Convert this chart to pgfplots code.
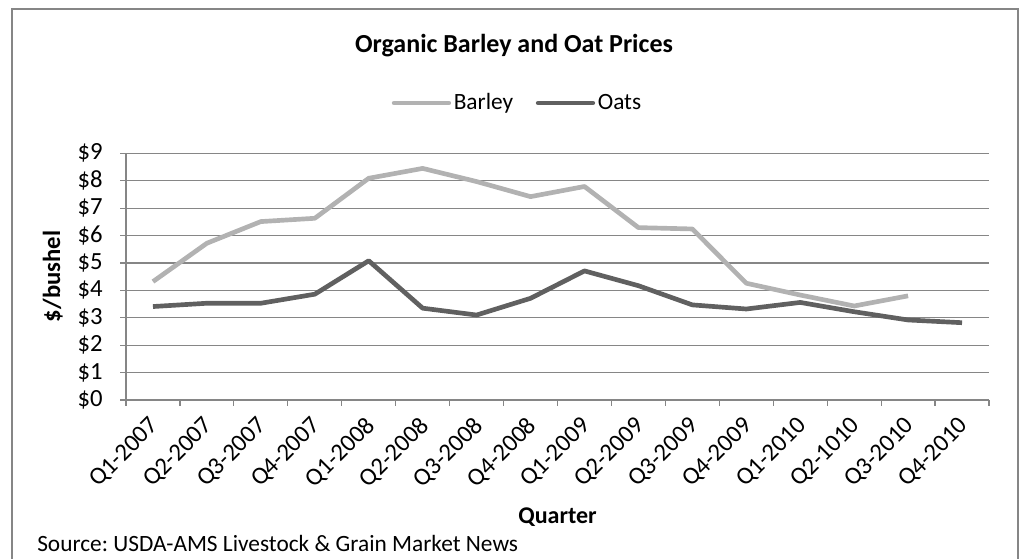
\documentclass[border=0pt]{standalone}
\usepackage{fontspec}
\setmainfont{Carlito}
\usepackage{pgfplots}
\pgfplotsset{compat=1.18}
\definecolor{barley}{RGB}{178,178,178}
\definecolor{oats}{RGB}{96,96,96}
\definecolor{axgray}{RGB}{134,134,134}
\frenchspacing
\begin{document}
\begin{tikzpicture}
\useasboundingbox (0,0) rectangle (767.25pt,419.25pt);
\draw[axgray, line width=1.2pt] (9pt,-5pt) -- (9pt,412.3pt) -- (763.5pt,412.3pt) -- (763.5pt,-5pt);
\begin{axis}[
  at={(94.5pt,119.25pt)}, anchor=south west,
  width=647.25pt, height=185pt, scale only axis,
  xmin=-0.5, xmax=15.5, ymin=0, ymax=9,
  axis x line=bottom, axis y line=left,
  axis line style={-, axgray, line width=0.9pt},
  tick align=outside,
  major tick length=4.5pt, minor tick length=4.5pt,
  tick style={axgray, line width=0.9pt},
  major x tick style={draw=none},
  xtick={0,...,15},
  minor xtick={-0.5,0.5,...,15.5},
  xticklabels={Q1-2007,Q2-2007,Q3-2007,Q4-2007,Q1-2008,Q2-2008,Q3-2008,Q4-2008,Q1-2009,Q2-2009,Q3-2009,Q4-2009,Q1-2010,Q2-1010,Q3-2010,Q4-2010},
  xticklabel style={xshift=-3.5pt, yshift=-6.75pt, rotate=45, anchor=north east, inner sep=0pt, font=\fontsize{18.5}{22}\selectfont},
  ytick={0,...,9},
  yticklabels={\$0,\$1,\$2,\$3,\$4,\$5,\$6,\$7,\$8,\$9},
  yticklabel style={anchor=east, inner sep=0pt, xshift=-12.75pt, font=\fontsize{18.5}{22}\selectfont},
  ymajorgrids, grid style={axgray, line width=0.9pt},
  legend style={at={(0.454,1.204)}, anchor=center, draw=none, fill=none,
    font=\fontsize{17.5}{21}\selectfont, legend columns=2,
    nodes={text depth=0.22em},
    /tikz/every even column/.append style={column sep=15pt},
    inner sep=0pt},
  legend image code/.code={\draw[#1, line cap=round] (0pt,0pt) -- (41pt,0pt);},
  clip=false,
]
\addplot[barley, line width=3.5pt, line join=round] coordinates {
(0,4.32) (1,5.72) (2,6.51) (3,6.63) (4,8.09) (5,8.45) (6,7.97) (7,7.42)
(8,7.79) (9,6.29) (10,6.24) (11,4.26) (12,3.83) (13,3.43) (14,3.80)};
\addlegendentry{Barley}
\addplot[oats, line width=3.5pt, line join=round] coordinates {
(0,3.41) (1,3.53) (2,3.53) (3,3.86) (4,5.08) (5,3.35) (6,3.10) (7,3.71)
(8,4.71) (9,4.17) (10,3.47) (11,3.32) (12,3.56) (13,3.22) (14,2.92) (15,2.82)};
\addlegendentry{Oats}
\end{axis}
\node[anchor=base, font=\bfseries\fontsize{19.5}{23}\selectfont] at (385.5pt,379.5pt) {Organic Barley and Oat Prices};
\node[rotate=90, anchor=base, font=\bfseries\fontsize{18.5}{22}\selectfont] at (45pt,211.9pt) {\$/bushel};
\node[anchor=base, font=\bfseries\fontsize{18}{21}\selectfont] at (418.1pt,26.25pt) {Quarter};
\node[anchor=base west, inner sep=0pt, font=\fontsize{17.5}{21}\selectfont] at (27.75pt,5.5pt) {Source: USDA-AMS Livestock \& Grain Market News};
\end{tikzpicture}
\end{document}
